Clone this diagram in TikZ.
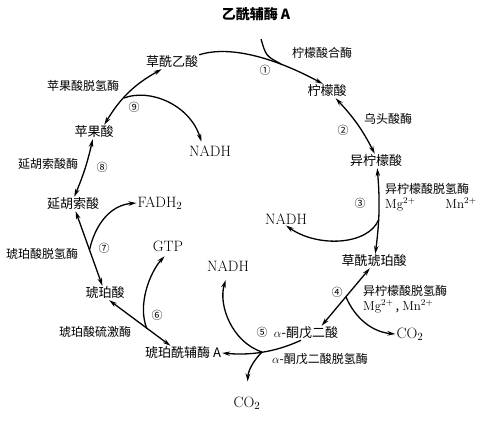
\documentclass[tikz,border=0pt]{standalone}
\usepackage{fontspec}
\newfontfamily\cjk{Noto Sans CJK SC}
\usepackage{tikz}
\usetikzlibrary{arrows.meta}

\begin{document}
\begin{tikzpicture}[x=1pt, y=-1pt,
    every node/.style={inner sep=1pt},
    met/.style={font=\cjk\fontsize{13}{15}\selectfont},
    enz/.style={font=\cjk\fontsize{12}{15}\selectfont},
    num/.style={font=\cjk\fontsize{11}{13}\selectfont},
    prod/.style={font=\fontsize{15}{17}\selectfont},
    arr/.style={line width=1.3pt, -{Stealth[length=8pt, width=4.5pt]}},
    darr/.style={line width=1.3pt, {Stealth[length=8pt, width=4.5pt]}-{Stealth[length=8pt, width=4.5pt]}}]
    \useasboundingbox (0,0) rectangle (481,420);

    % Nodes
    \node[met, font=\cjk\bfseries\fontsize{14}{16}\selectfont] (acoa) at (256,14) {乙酰辅酶 A};
    \node[met] (oaa) at (172,62) {草酰乙酸};
    \node[met] (cit) at (327,91) {柠檬酸};
    \node[met] (iso) at (376,161) {异柠檬酸};
    \node[met] (oxs) at (374,261) {草酰琥珀酸};
    \node[met] (akg) at (306,333) {$\alpha$-酮戊二酸};
    \node[met] (sca) at (183,353) {琥珀酰辅酶 A};
    \node[met] (suc) at (105,293) {琥珀酸};
    \node[met] (fum) at (73,204) {延胡索酸};
    \node[met] (mal) at (94,132) {苹果酸};

    \node[prod] (nadh3) at (286,219) {NADH};
    \node[prod] (co2a) at (410,334) {CO$_2$};
    \node[prod] (co2b) at (247,403) {CO$_2$};
    \node[prod] (nadh5) at (228,266) {NADH};
    \node[prod] (gtp) at (168,246) {GTP};
    \node[prod] (fadh) at (160,203) {FADH$_2$};
    \node[prod] (nadh9) at (210,151) {NADH};

    % Enzymes
    \node[enz, anchor=west, align=left] (e3) at (384,197) {异柠檬酸脱氢酶\\\fontsize{13}{15}\selectfont\textrm{Mg}$^{2+}$\hspace{2.3em}\textrm{Mn}$^{2+}$};
    \node[enz, anchor=west, align=left] (e4) at (362,299) {异柠檬酸脱氢酶\\\fontsize{13}{15}\selectfont\textrm{Mg}$^{2+}$\,,\ \textrm{Mn}$^{2+}$};
    \node[enz] (e1) at (322,53) {柠檬酸合酶};
    \node[enz] (e2) at (388,119) {乌头酸酶};
    \node[enz] (e5) at (320,359) {$\alpha$-酮戊二酸脱氢酶};
    \node[enz] (e6) at (95,332) {琥珀酸硫激酶};
    \node[enz] (e7) at (42,254) {琥珀酸脱氢酶};
    \node[enz] (e8) at (48,164) {延胡索酸酶};
    \node[enz] (e9) at (83,86) {苹果酸脱氢酶};

    % Step numbers
    \foreach \c/\x/\y [count=\i] in {①/265/70, ②/343/130, ③/360/203, ④/337/292, ⑤/262/332, ⑥/157/315, ⑦/104/248, ⑧/102/167, ⑨/134/107}
    \node[num] (n\i) at (\x,\y) {\c};

    % Branch points
    \coordinate (m1) at (281,64);
    \coordinate (b3) at (378.5,220);
    \coordinate (b4) at (346,297);
    \coordinate (b5) at (262,352);
    \coordinate (b6) at (147,329);
    \coordinate (b7) at (89.5,250);
    \coordinate (b9) at (124,98);

    % Arrows
    \draw[arr] (oaa.north east) .. controls (230,45) and (275,58) .. (cit.120);
    \draw[line width=1.3pt, shorten <=18pt] (acoa.south) .. controls (266,56) .. (m1);
    \draw[darr] (cit.-40) to[bend left=8] (iso.100);
    \draw[darr] (iso.-80) to[bend left=6] (oxs.80);
    \draw[arr] (b3) .. controls (368,245) and (318,248) .. (nadh3.south);
    \draw[darr] (oxs.-120) -- (akg.25);
    \draw[arr] (b4) .. controls (355,318) and (372,332) .. (co2a.west);
    \draw[arr] (akg.-125) .. controls (280,350) and (255,356) .. (sca.east);
    \draw[arr, shorten >=14pt] (b5) .. controls (252,362) and (248,372) .. (co2b.north);
    \draw[arr, shorten >=8pt] (b5) .. controls (232,342) and (218,305) .. (nadh5.south);
    \draw[darr] (suc.-60) -- (sca.150);
    \draw[arr, shorten >=5pt] (b6) .. controls (137,305) and (150,272) .. (gtp.south);
    \draw[darr] (fum.-70) -- (suc.110);
    \draw[arr] (b7) .. controls (95,225) and (110,205) .. (fadh.west);
    \draw[darr] (mal.-100) to[bend left=5] (fum.80);
    \draw[darr] (mal.35) to[bend left=15] (oaa.-145);
    \draw[arr, shorten >=3pt] (b9) .. controls (150,88) and (190,105) .. (nadh9.140);
\end{tikzpicture}
\end{document}
